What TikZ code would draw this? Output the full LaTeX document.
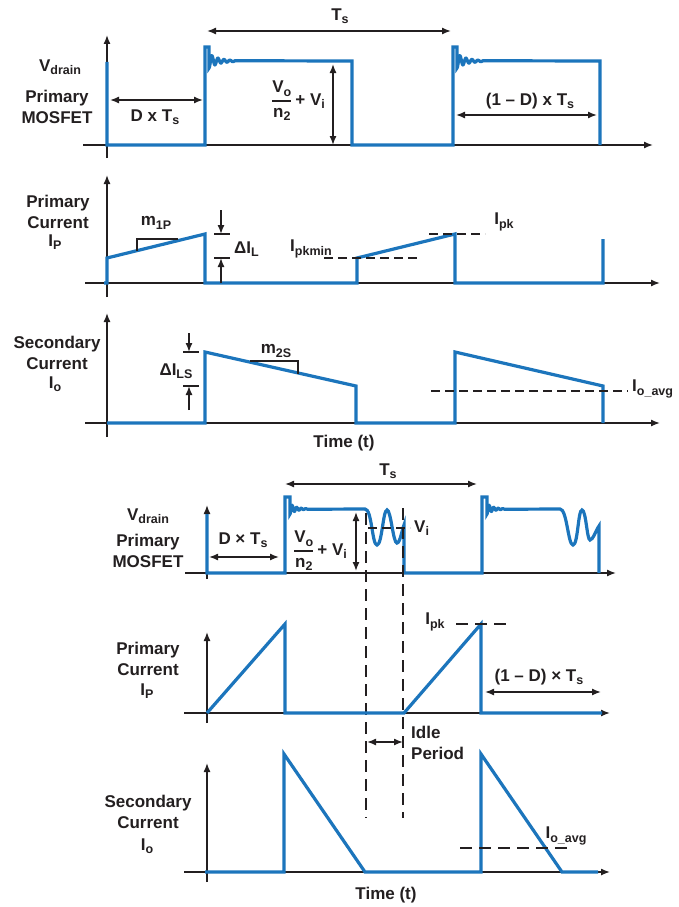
\documentclass[tikz,border=0pt]{standalone}
\usepackage{fontspec}
\setmainfont{Liberation Sans}
\usepackage{amsmath}
\usetikzlibrary{arrows.meta}
\definecolor{wave}{RGB}{28,117,188}
\definecolor{ink}{RGB}{35,31,32}
\newcommand{\lsub}[1]{\raisebox{-3.5pt}{\fontsize{12.5}{12.5}\selectfont #1}}
\newcommand{\vfrac}{$\genfrac{}{}{1.3pt}{0}{\text{V\lsub{o}}}{\text{n\lsub{2}}}$\,+ V\lsub{i}}
\begin{document}
\begin{tikzpicture}[x=1pt,y=-1pt,
  every node/.style={font={\fontsize{17}{20.5}\selectfont\bfseries}, text=ink, inner sep=0pt},
  axis/.style={ink, line width=1.4pt, -{Latex[length=9pt,width=7pt]}},
  dimarrow/.style={ink, line width=1.4pt, {Latex[length=9pt,width=7pt]}-{Latex[length=9pt,width=7pt]}},
  onearrow/.style={ink, line width=1.4pt, -{Latex[length=9pt,width=7pt]}},
  wavef/.style={wave, line width=3.2pt},
  guide/.style={ink, line width=1.4pt, dash pattern=on 9pt off 5pt},
  vguide/.style={ink, line width=1.4pt, dash pattern=on 12pt off 7pt},
  thinline/.style={ink, line width=1.2pt},
  lbl/.style={align=center}
]
\useasboundingbox (0,0) rectangle (679,907);

% ================= Panel 1 =================
\draw[axis] (107,158) -- (107,35);
\draw[axis] (83,145) -- (653,145);
\draw[wavef] (107,62) -- (107,145) -- (205,145) -- (205,47) -- (209,47) -- (209,68)
  -- plot[domain=0:26,samples=120] ({209+\x},{61+7*exp(-\x/10)*cos(deg(2*pi*\x/6))})
  -- (352,61) -- (352,145) -- (453,145) -- (453,47) -- (457,47) -- (457,68)
  -- plot[domain=0:26,samples=120] ({457+\x},{61+7*exp(-\x/10)*cos(deg(2*pi*\x/6))})
  -- (600,61) -- (600,145);
\coordinate (tsA) at (207,31); \coordinate (tsB) at (451,31);
\draw[dimarrow] (tsA) -- (tsB);
\node (ts1) at (340,16) {T\lsub{s}};
\coordinate (dA) at (110,100); \coordinate (dB) at (203,100);
\draw[dimarrow] (dA) -- (dB);
\node (dts1) at (155,117) {D x T\lsub{s}};
\coordinate (vA) at (333,64); \coordinate (vB) at (333,145);
\draw[dimarrow] (vA) -- (vB);
\node (vf1) at (298,101) {\vfrac};
\coordinate (oA) at (456,115); \coordinate (oB) at (597,115);
\draw[dimarrow] (oA) -- (oB);
\node (omd1) at (530,101) {(1 -- D) x T\lsub{s}};
\node (vd1) at (60,67) {V\lsub{drain}};
\node[lbl] (pm1) at (57,107) {Primary\\MOSFET};

% ================= Panel 2 =================
\draw[axis] (107,297) -- (107,175);
\draw[axis] (85,283) -- (660,283);
\draw[wavef] (104,283) -- (107,283) -- (107,258) -- (205,234) -- (205,283) -- (357,283) -- (357,258)
  -- (455,234) -- (455,283) -- (603,283) -- (603,239);
\draw[thinline] (137,250.5) -- (137,239) -- (178,239);
\node (m1p) at (156,223) {m\lsub{1P}};
\draw[thinline] (214,234) -- (230,234);
\draw[thinline] (214,258) -- (230,258);
\coordinate (ilA) at (221,210); \coordinate (ilB) at (221,234);
\coordinate (ilC) at (221,283); \coordinate (ilD) at (221,258);
\draw[onearrow] (ilA) -- (ilB);
\draw[onearrow] (ilC) -- (ilD);
\node[anchor=west] (dil) at (234,249) {ΔI\lsub{L}};
\node (ipkmin) at (311,249) {I\lsub{pkmin}};
\draw[guide] (324,258) -- (418,258);
\node (ipk1) at (504,222) {I\lsub{pk}};
\draw[guide] (429,234) -- (485,234);
\node[lbl] (pc2) at (58,212) {Primary\\Current};
\node (ip2) at (55,242) {I\lsub{P}};

% ================= Panel 3 =================
\draw[axis] (107,437) -- (107,313);
\draw[axis] (85,423) -- (660,423);
\draw[wavef] (107,423) -- (205,423) -- (205,352) -- (356,386) -- (356,423) -- (455,423) -- (455,352)
  -- (603,386) -- (603,423);
\draw[thinline] (183,352) -- (199,352);
\draw[thinline] (183,386) -- (199,386);
\coordinate (lsA) at (189,333); \coordinate (lsB) at (189,352);
\coordinate (lsC) at (189,410); \coordinate (lsD) at (189,386);
\draw[onearrow] (lsA) -- (lsB);
\draw[onearrow] (lsC) -- (lsD);
\node (dils) at (176,371) {ΔI\lsub{LS}};
\draw[thinline] (250,361) -- (298,361) -- (298,373.5);
\node (m2s) at (276,351) {m\lsub{2S}};
\draw[guide] (431,391) -- (628,391);
\node[anchor=west] (ioavg1) at (632,389) {I\lsub{o\_avg}};
\node (time1) at (344,443) {Time (t)};
\node[lbl] (sc3) at (57,353) {Secondary\\Current};
\node (io3) at (55,384) {I\lsub{o}};

% ================= Panel 4 =================
\draw[axis] (207,579) -- (207,505);
\draw[axis] (185,573) -- (616,573);
\draw[wavef] (207,514) -- (207,573) -- (285,573) -- (285,497) -- (290,497) -- (290,514)
  -- plot[domain=0:18,samples=100] ({290+\x},{509+5*exp(-\x/6)*cos(deg(2*pi*\x/4.5))})
  -- (365,509) .. controls (372,509) and (372,545) .. (377,545)
  .. controls (382,545) and (383,510) .. (387,510)
  .. controls (391,510) and (393,543) .. (397,543)
  .. controls (400,543) and (402,530) .. (404,525) -- (404,573) -- (482,573) -- (482,497) -- (487,497) -- (487,514)
  -- plot[domain=0:18,samples=100] ({487+\x},{509+5*exp(-\x/6)*cos(deg(2*pi*\x/4.5))})
  -- (560,509) .. controls (567,509) and (568,545) .. (573,545)
  .. controls (578,545) and (578,510) .. (582,510)
  .. controls (586,510) and (587,540) .. (590,540)
  .. controls (593,540) and (596,530) .. (599,526) -- (599,573);
\coordinate (ts4A) at (285,484); \coordinate (ts4B) at (477,484);
\draw[dimarrow] (ts4A) -- (ts4B);
\node (ts4) at (388,471) {T\lsub{s}};
\coordinate (d4A) at (209,557); \coordinate (d4B) at (279,557);
\draw[dimarrow] (d4A) -- (d4B);
\node (dts4) at (243,540) {D × T\lsub{s}};
\coordinate (v4A) at (356,512); \coordinate (v4B) at (356,571);
\draw[dimarrow] (v4A) -- (v4B);
\node (vf4) at (320,551) {\vfrac};
\draw[guide] (368,528) -- (410,528);
\node[anchor=west] (vi4) at (414,528) {V\lsub{i}};
\coordinate (g1t) at (366,513); \coordinate (g1b) at (366,818);
\coordinate (g2t) at (403,508); \coordinate (g2b) at (403,818);
\draw[vguide] (g1t) -- (g1b);
\draw[vguide] (g2t) -- (g2b);
\node (vd4) at (148,516) {V\lsub{drain}};
\node[lbl] (pm4) at (148,551) {Primary\\MOSFET};

% ================= Panel 5 =================
\draw[axis] (207,723) -- (207,632);
\draw[axis] (184,713) -- (610,713);
\draw[wavef] (207,713) -- (285,624) -- (285,713) -- (404,713) -- (481,624) -- (481,713) -- (602,713);
\node (ipk5) at (435,622) {I\lsub{pk}};
\draw[vguide] (456,624) -- (508,624);
\node (omd5) at (539,677) {(1 -- D) × T\lsub{s}};
\coordinate (o5A) at (485,692); \coordinate (o5B) at (601,692);
\draw[dimarrow] (o5A) -- (o5B);
\coordinate (idA) at (367,742); \coordinate (idB) at (403,742);
\draw[dimarrow] (idA) -- (idB);
\node[anchor=west, align=left] (idle) at (411,743) {Idle\\Period};
\node[lbl] (pc5) at (148,659) {Primary\\Current};
\node (ip5) at (147,691) {I\lsub{P}};

% ================= Panel 6 =================
\draw[axis] (207,882) -- (207,763);
\draw[axis] (184,872) -- (610,872);
\draw[wavef] (205,872) -- (284,872) -- (284,754) -- (365,872) -- (481,872) -- (481,754) -- (562,872) -- (598,872);
\draw[vguide] (460,848) -- (567,848);
\node (ioavg6) at (566,836) {I\lsub{o\_avg}};
\node (time6) at (386,895) {Time (t)};
\node[lbl] (sc6) at (148,812) {Secondary\\Current};
\node (io6) at (147,846) {I\lsub{o}};
\end{tikzpicture}
\end{document}
